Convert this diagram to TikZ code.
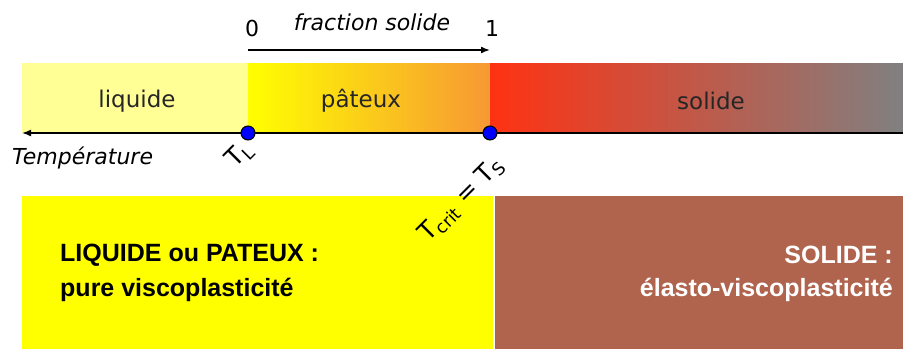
\documentclass[tikz,border=0pt]{standalone}
\usepackage{fontspec}
\setmainfont{Liberation Sans}
\newfontfamily\dvs{DejaVu Sans}
\usetikzlibrary{arrows.meta}
\definecolor{liqcol}{RGB}{255,255,150}
\definecolor{patA}{RGB}{255,255,0}
\definecolor{patM}{RGB}{252,205,35}
\definecolor{patB}{RGB}{247,152,52}
\definecolor{solA}{RGB}{255,50,18}
\definecolor{solM}{RGB}{214,92,84}
\definecolor{solB}{RGB}{128,128,128}
\definecolor{boxY}{RGB}{255,255,0}
\definecolor{boxB}{RGB}{176,100,78}
\definecolor{dotcol}{RGB}{0,0,255}
\begin{document}
\begin{tikzpicture}[x=1pt,y=-1pt,
  lbl/.style={font=\dvs\fontsize{23}{26}\selectfont, text=black!85, inner sep=0pt},
  ital/.style={font=\dvs\fontsize{22}{24}\selectfont\itshape, inner sep=0pt},
  num/.style={font=\dvs\fontsize{22}{24}\selectfont, inner sep=0pt},
  bigtxt/.style={font=\fontsize{25}{30}\selectfont\bfseries, inner sep=0pt, align=left},
  dotnode/.style={circle, fill=dotcol, draw=black, line width=1pt, minimum size=14pt, inner sep=0pt},
  axis/.style={line width=1.6pt, -{Latex[length=9pt,width=7pt]}},
  rot/.style={font=\dvs\fontsize{25}{28}\selectfont, rotate=45, inner sep=0pt}]
\useasboundingbox (0,0) rectangle (903,349);
% top bar
\fill[liqcol] (22,63) rectangle (248,133);
\shade[left color=patA, middle color=patM, right color=patB] (248,63) rectangle (490,133);
\shade[left color=solA, middle color=solM, right color=solB] (490,63) rectangle (903,133);
\node[lbl] (liq) at (137,101) {liquide};
\node[lbl] (pat) at (361,101) {pâteux};
\node[lbl] (sol) at (711,101) {solide};
% axis
\coordinate (axL) at (22,133);
\coordinate (axR) at (903,133);
\draw[axis] (axR) -- (axL);
\node[dotnode] (TL) at (248,133) {};
\node[dotnode] (TS) at (490,133) {};
\node[ital, anchor=west] (temp) at (12,158) {Température};
% fraction solide
\node[num] (zero) at (252,28) {0};
\node[num] (one) at (492,28) {1};
\node[ital] (frac) at (372,22) {fraction solide};
\coordinate (fa) at (248,50);
\coordinate (fb) at (490,50);
\draw[line width=1.6pt, -{Latex[length=9pt,width=7pt]}] (fa) -- (fb);
% bottom boxes
\fill[boxY] (22,196) rectangle (493,349);
\fill[boxB] (495,196) rectangle (903,349);
\node[bigtxt, anchor=west] (lp) at (60,255) {LIQUIDE ou PATEUX :};
\node[bigtxt, anchor=west] (pv) at (60,290) {pure viscoplasticité};
\node[bigtxt, anchor=east, text=white] (so) at (893,255) {SOLIDE :};
\node[bigtxt, anchor=east, text=white] (ev) at (893,290) {élasto-viscoplasticité};
% rotated labels
\node[rot] (tl) at (240,155) {T\textsubscript{L}};
\node[rot] (tc) at (462,200) {T\textsubscript{crit} = T\textsubscript{S}};
\end{tikzpicture}
\end{document}
